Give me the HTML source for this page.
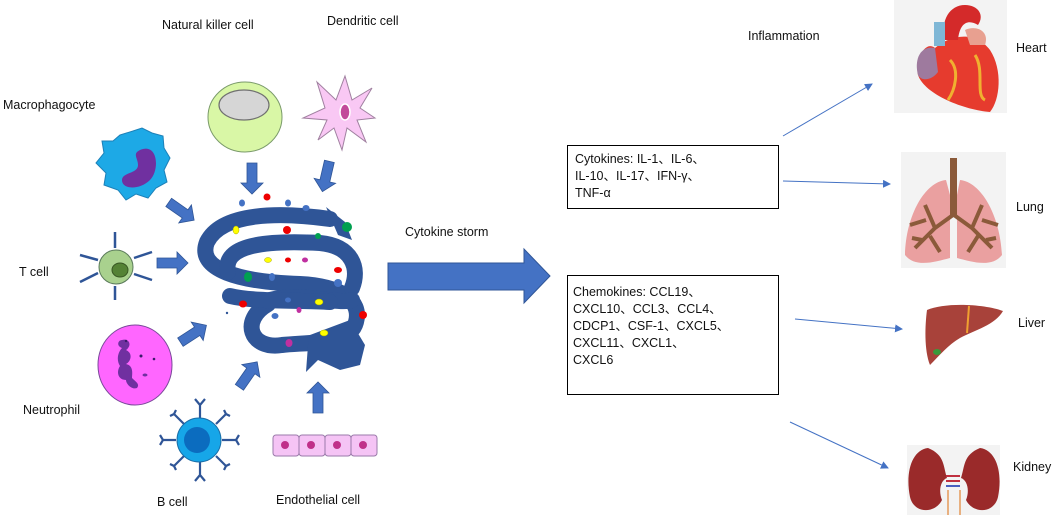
<!DOCTYPE html>
<html><head><meta charset="utf-8"><style>
html,body{margin:0;padding:0;background:#fff;}
svg{display:block;font-family:"Liberation Sans",Arial,sans-serif;}
text{font-size:12.5px;fill:#111;}
</style></head><body>
<svg width="1056" height="515" viewBox="0 0 1056 515" xmlns="http://www.w3.org/2000/svg">
<defs>
<marker id="ah" markerWidth="8" markerHeight="8" refX="7" refY="4" orient="auto" markerUnits="userSpaceOnUse"><path d="M0,0 L8,4 L0,8 Z" fill="#4472c4"/></marker>
<g id="barrow"><path d="M-15,-5 L5,-5 L5,-11 L16,0 L5,11 L5,5 L-15,5 Z" fill="#4472c4" stroke="#2f5597" stroke-width="0.8"/></g>
</defs>

<text x="162" y="29">Natural  killer cell</text>
<text x="327" y="25">Dendritic cell</text>
<text x="3" y="109">Macrophagocyte</text>
<text x="19" y="276">T cell</text>
<text x="23" y="414">Neutrophil</text>
<text x="157" y="506">B cell</text>
<text x="276" y="504">Endothelial  cell</text>
<text x="405" y="236">Cytokine storm</text>
<text x="748" y="40">Inflammation</text>

<ellipse cx="245" cy="117" rx="37" ry="35" fill="#d9f7a6" stroke="#7a9a6a" stroke-width="1"/>
<ellipse cx="244" cy="105" rx="25" ry="15" fill="#d6d6d6" stroke="#707070" stroke-width="1.2"/>

<path d="M345,76 L352,100 L372,88 L360,108 L375,118 L357,120 L366,142 L347,128 L342,150 L334,128 L318,140 L327,120 L303,118 L325,108 L317,82 L336,100 Z" fill="#f9c8f4" stroke="#a080a0" stroke-width="1"/>
<ellipse cx="345" cy="112" rx="5" ry="8" fill="#c24a9a" stroke="#fff" stroke-width="1.5"/>

<path d="M120,135 L133,131 L142,128 L152,133 L163,136 L164,148 L170,158 L164,170 L167,182 L156,188 L148,198 L136,194 L126,200 L118,190 L104,185 L106,173 L96,163 L104,153 L102,141 L113,141 Z" fill="#1da9e6" stroke="#1c80b8" stroke-width="1"/>
<path d="M140,150 C158,142 160,170 150,180 C140,190 122,190 122,180 C122,172 138,174 138,165 C138,158 132,154 140,150 Z" fill="#7030a0"/>

<g stroke="#2f5597" stroke-width="2.5">
<line x1="115" y1="232" x2="115" y2="248"/><line x1="115" y1="286" x2="115" y2="300"/>
<line x1="80" y1="255" x2="98" y2="260"/><line x1="134" y1="258" x2="152" y2="252"/>
<line x1="80" y1="282" x2="98" y2="273"/><line x1="134" y1="274" x2="152" y2="280"/>
</g>
<circle cx="116" cy="267" r="17" fill="#a9d18e" stroke="#5a7a5a"/>
<ellipse cx="120" cy="270" rx="8" ry="7" fill="#548235" stroke="#385723"/>

<ellipse cx="135" cy="365" rx="37" ry="40" fill="#ff66ff" stroke="#7a4a9a" stroke-width="1"/>
<path d="M122,340 C130,338 132,346 126,350 C134,354 130,362 126,364 C134,366 132,374 132,378 C136,382 140,384 137,388 C132,390 126,384 126,380 C118,380 116,372 120,366 C116,360 118,352 122,348 C116,346 118,340 122,340 Z" fill="#7030a0"/>
<circle cx="126" cy="341" r="1.2" fill="#3a1a6a"/><circle cx="141" cy="356" r="1.5" fill="#3a1a6a"/><circle cx="154" cy="359" r="1.3" fill="#3a1a6a"/><ellipse cx="145" cy="375" rx="2.5" ry="1.5" fill="#7030a0"/>

<g stroke="#2f5597" stroke-width="2.2" fill="none">
<path d="M200,418 L200,405 M195,399 L200,405 L205,399"/>
<path d="M200,462 L200,475 M195,481 L200,475 L205,481"/>
<path d="M176,440 L163,440 M160,435 L163,440 L160,445"/>
<path d="M222,440 L236,440 M239,435 L236,440 L239,445"/>
<path d="M184,424 L174,414 M170,416 L174,414 L176,410"/>
<path d="M216,424 L226,414 M224,410 L226,414 L230,416"/>
<path d="M184,456 L174,466 M170,464 L174,466 L176,470"/>
<path d="M216,456 L226,466 M224,470 L226,466 L230,464"/>
</g>
<circle cx="199" cy="440" r="22" fill="#16a6e8" stroke="#1a6ea8"/>
<circle cx="197" cy="440" r="13" fill="#0b6cbf"/>

<g fill="#f5c4f5" stroke="#9a7aaa" stroke-width="1">
<rect x="273" y="435" width="26" height="21" rx="3"/><rect x="299" y="435" width="26" height="21" rx="3"/><rect x="325" y="435" width="26" height="21" rx="3"/><rect x="351" y="435" width="26" height="21" rx="3"/>
</g>
<g fill="#c0308a"><circle cx="285" cy="445" r="4"/><circle cx="311" cy="445" r="4"/><circle cx="337" cy="445" r="4"/><circle cx="363" cy="445" r="4"/></g>

<use href="#barrow" transform="translate(252,178) rotate(90)"/>
<use href="#barrow" transform="translate(326,176) rotate(103)"/>
<use href="#barrow" transform="translate(181,211) rotate(35)"/>
<use href="#barrow" transform="translate(172,263)"/>
<use href="#barrow" transform="translate(193,334) rotate(-33)"/>
<use href="#barrow" transform="translate(248,375) rotate(-55)"/>
<use href="#barrow" transform="translate(318,398) rotate(-90)"/>

<g fill="none" stroke="#2f5597" stroke-width="16" stroke-linecap="round">
<path d="M330,219 C280,212 222,212 207,242 C196,270 240,282 300,284 C340,286 362,300 356,322 C350,345 310,342 282,345 C250,350 240,320 268,304"/>
<path d="M228,272 C222,245 265,240 320,243 C352,246 360,268 352,288"/>
<path d="M270,300 C300,292 340,305 352,300"/>
<path d="M230,296 C255,302 300,300 330,302"/>
</g>
<path d="M326,207 L345,222 L352,240 L338,235 Z" fill="#2f5597"/>
<path d="M310,335 L350,320 L365,345 L360,365 L340,370 L318,360 L306,372 L308,345 Z" fill="#2f5597"/>
<g>
<ellipse cx="242" cy="203" rx="3" ry="3.5" fill="#4472c4"/><ellipse cx="267" cy="197" rx="3.5" ry="3.5" fill="#e00"/><ellipse cx="288" cy="203" rx="3" ry="3.5" fill="#4472c4"/><ellipse cx="306" cy="208" rx="3.5" ry="3" fill="#4472c4"/>
<ellipse cx="236" cy="230" rx="3" ry="4" fill="#ff0" stroke="#aa0" stroke-width=".5"/><ellipse cx="287" cy="230" rx="4" ry="4" fill="#e00"/><ellipse cx="318" cy="236" rx="3" ry="3" fill="#00a050"/><ellipse cx="347" cy="227" rx="5" ry="5" fill="#00a050"/>
<ellipse cx="268" cy="260" rx="3.5" ry="2.5" fill="#ff0" stroke="#aa0" stroke-width=".5"/><ellipse cx="288" cy="260" rx="3" ry="2.5" fill="#e00"/><ellipse cx="305" cy="260" rx="3" ry="2.5" fill="#c030a0"/>
<ellipse cx="248" cy="277" rx="4" ry="5" fill="#00a050"/><ellipse cx="272" cy="277" rx="3" ry="4" fill="#4472c4"/><ellipse cx="338" cy="270" rx="4" ry="3" fill="#e00"/><ellipse cx="338" cy="283" rx="4" ry="4" fill="#4472c4"/>
<ellipse cx="243" cy="304" rx="4" ry="3.5" fill="#e00"/><ellipse cx="288" cy="300" rx="3" ry="2.5" fill="#4472c4"/><ellipse cx="319" cy="302" rx="4" ry="3" fill="#ff0" stroke="#aa0" stroke-width=".5"/><ellipse cx="299" cy="310" rx="2.5" ry="3" fill="#c030a0"/><ellipse cx="275" cy="316" rx="3.5" ry="3" fill="#4472c4"/><ellipse cx="363" cy="315" rx="4" ry="4" fill="#e00"/><ellipse cx="324" cy="333" rx="4" ry="3" fill="#ff0" stroke="#aa0" stroke-width=".5"/><ellipse cx="289" cy="343" rx="3.5" ry="4" fill="#c030a0"/><circle cx="227" cy="313" r="1.2" fill="#2f5597"/>
</g>

<path d="M388,263 L524,263 L524,249 L550,276 L524,303 L524,290 L388,290 Z" fill="#4472c4" stroke="#2f5597" stroke-width="1"/>

<rect x="567.5" y="145.5" width="211" height="63" fill="#fff" stroke="#000" stroke-width="1"/>
<text x="575" y="163">Cytokines:  IL-1、IL-6、</text>
<text x="575" y="180">IL-10、IL-17、IFN-γ、</text>
<text x="575" y="197">TNF-α</text>
<rect x="567.5" y="275.5" width="211" height="119" fill="#fff" stroke="#000" stroke-width="1"/>
<text x="573" y="296">Chemokines:  CCL19、</text>
<text x="573" y="313">CXCL10、CCL3、CCL4、</text>
<text x="573" y="330">CDCP1、CSF-1、CXCL5、</text>
<text x="573" y="347">CXCL11、CXCL1、</text>
<text x="573" y="364">CXCL6</text>

<g stroke="#4472c4" stroke-width="1" marker-end="url(#ah)">
<line x1="783" y1="136" x2="872" y2="84"/>
<line x1="783" y1="181" x2="890" y2="184"/>
<line x1="795" y1="319" x2="902" y2="329"/>
<line x1="790" y1="422" x2="888" y2="468"/>
</g>

<rect x="894" y="0" width="113" height="113" fill="#f3f3f3"/>
<path d="M935,48 C925,40 915,60 918,75 C925,95 965,110 990,112 C1000,100 1003,70 990,50 C975,30 950,35 935,48 Z" fill="#e63b2e"/>
<path d="M935,48 C920,45 914,60 918,75 C922,82 932,80 938,72 Z" fill="#9e7a9e"/>
<path d="M945,40 C940,20 950,5 965,5 C978,5 985,15 978,25 C970,20 960,20 958,40 Z" fill="#d42a2a"/>
<rect x="934" y="22" width="11" height="24" fill="#7fb7d6"/>
<path d="M965,30 C975,25 990,30 985,45 L970,45 Z" fill="#e8a090"/>
<path d="M950,60 C960,70 955,90 948,100 M975,55 C985,70 975,95 985,100" stroke="#f0b030" stroke-width="3" fill="none"/>
<text x="1016" y="52">Heart</text>

<rect x="901" y="152" width="105" height="116" fill="#f3f3f3"/>
<path d="M946,180 C925,182 906,215 905,255 C915,268 935,262 950,258 L950,195 Z" fill="#eaa0a0"/>
<path d="M960,180 C981,182 1000,215 1002,255 C992,268 972,262 957,258 L957,195 Z" fill="#eaa0a0"/>
<rect x="950" y="158" width="7" height="58" fill="#8b5a3a"/>
<g stroke="#8b5a3a" stroke-width="4" fill="none">
<path d="M953,215 L935,228 L915,248 M935,228 L925,205 M930,236 L940,252 M926,220 L910,225 M922,240 L912,238"/>
<path d="M954,215 L972,228 L992,248 M972,228 L982,205 M978,236 L968,252 M982,220 L998,225 M986,240 L996,238"/>
</g>
<text x="1016" y="211">Lung</text>

<path d="M927,310 C945,302 985,304 1003,311 C995,325 975,330 960,338 C948,345 940,355 930,365 C924,350 925,325 927,310 Z" fill="#a8423a"/>
<path d="M969,306 L967,333" stroke="#f0a030" stroke-width="2"/>
<ellipse cx="937" cy="352" rx="4" ry="3" fill="#3a9a3a"/>
<text x="1018" y="327">Liver</text>

<rect x="907" y="445" width="93" height="70" fill="#f3f3f3"/>
<path d="M928,448 C912,450 905,472 910,497 C914,514 935,514 942,500 C938,490 941,480 947,478 C943,466 945,455 928,448 Z" fill="#9a2a2a"/>
<path d="M980,448 C996,450 1003,472 998,497 C994,514 973,514 966,500 C970,490 967,480 961,478 C965,466 963,455 980,448 Z" fill="#9a2a2a"/>
<path d="M946,476 L960,476 M946,481 L960,481" stroke="#c03040" stroke-width="2"/>
<path d="M946,486 L960,486" stroke="#4a60c0" stroke-width="2"/>
<path d="M948,490 L948,515 M960,490 L960,515" stroke="#e8b080" stroke-width="2"/>
<text x="1013" y="471">Kidney</text>
</svg>
</body></html>
